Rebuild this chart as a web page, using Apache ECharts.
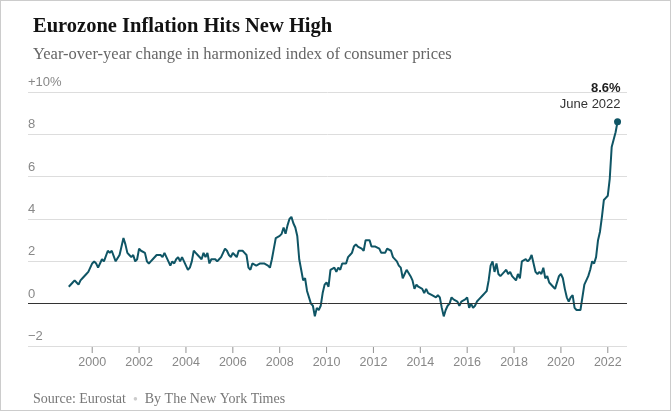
<!DOCTYPE html>
<html>
<head>
    <meta charset="utf-8">
    <script src="https://cdn.jsdelivr.net/npm/echarts@6/dist/echarts.min.js"></script>
    <style>
        body { margin:0; }
        #main { width:669px; height:409px; border:1px solid #ccc; }
    </style>
</head>
<body>
    <div id="main"></div>
    <script type="text/javascript">
        // monthly year-over-year HICP change, Jan 1999 .. Jun 2022
        var startYear = 1999;
        var values = [
            0.8,0.8,1.0,1.1,1.0,0.9,1.1,1.2,1.2,1.4,1.5,1.7,
            1.9,2.0,1.9,1.7,1.7,2.1,2.0,2.0,2.5,2.4,2.5,2.5,
            2.0,2.0,2.3,2.7,3.1,2.8,2.4,2.3,2.2,2.3,2.0,2.1,
            2.6,2.5,2.5,2.4,2.0,1.9,2.0,2.1,2.1,2.3,2.3,2.3,
            2.2,2.4,2.4,2.0,1.8,2.0,1.9,2.1,2.2,2.0,2.2,2.0,
            1.8,1.6,1.7,2.0,2.5,2.4,2.3,2.3,2.1,2.4,2.2,2.4,
            1.9,2.1,2.1,2.1,2.0,2.1,2.2,2.2,2.6,2.5,2.3,2.2,
            2.4,2.3,2.2,2.5,2.5,2.5,2.4,2.3,1.7,1.6,1.9,1.9,
            1.8,1.8,1.9,1.9,1.9,1.9,1.8,1.7,2.1,2.6,3.1,3.1,
            3.2,3.3,3.6,3.3,3.7,4.0,4.1,3.8,3.6,3.2,2.1,1.6,
            1.1,1.2,0.6,0.6,0.0,-0.1,-0.6,-0.2,-0.3,-0.1,0.5,0.9,
            1.0,0.8,1.6,1.6,1.7,1.5,1.7,1.6,1.9,1.9,1.9,2.2,
            2.3,2.4,2.7,2.8,2.7,2.7,2.6,2.5,3.0,3.0,3.0,2.7,
            2.7,2.7,2.7,2.6,2.4,2.4,2.4,2.6,2.6,2.5,2.2,2.2,
            2.0,1.8,1.7,1.2,1.4,1.6,1.6,1.3,1.1,0.7,0.9,0.8,
            0.8,0.7,0.5,0.7,0.5,0.5,0.4,0.4,0.3,0.4,0.3,-0.2,
            -0.6,-0.3,-0.1,0.0,0.3,0.2,0.2,0.1,-0.1,0.1,0.1,0.2,
            0.3,-0.2,0.0,-0.2,-0.1,0.1,0.2,0.2,0.4,0.5,0.6,1.1,
            1.8,2.0,1.5,1.9,1.4,1.3,1.3,1.5,1.6,1.4,1.5,1.3,
            1.3,1.1,1.4,1.2,2.0,2.0,2.1,2.0,2.1,2.3,1.9,1.5,
            1.4,1.5,1.4,1.7,1.2,1.3,1.0,1.0,0.8,0.7,1.0,1.3,
            1.4,1.2,0.7,0.3,0.1,0.3,0.4,-0.2,-0.3,-0.3,-0.3,-0.3,
            0.9,0.9,1.3,1.6,2.0,1.9,2.2,3.0,3.4,4.1,4.9,5.0,
            5.1,5.9,7.4,7.4,8.1,8.6
        ];
        var yearTicks = [2000,2002,2004,2006,2008,2010,2012,2014,2016,2018,2020,2022];

        var points = values.map(function (v, i) { return [startYear + i / 12, v]; });
        var last = points[points.length - 1];

        var serif = '"Liberation Serif", "DejaVu Serif", serif';
        var sans = '"Liberation Sans", Roboto, sans-serif';

        var myChart = echarts.init(document.getElementById('main'));
        var option = {
            animation: false,
            title: [{
                text: 'Eurozone Inflation Hits New High',
                left: 27, top: 10,
                textStyle: { fontFamily: serif, fontSize: 20.5, fontWeight: 'bold', color: '#121212' }
            }, {
                text: 'Year-over-year change in harmonized index of consumer prices',
                left: 27, top: 40,
                textStyle: { fontFamily: serif, fontSize: 16.5, fontWeight: 'normal', color: '#666' }
            }, {
                text: 'Source: Eurostat  {d|●}  By The New York Times',
                left: 27, top: 386,
                textStyle: { fontFamily: serif, fontSize: 14, fontWeight: 'normal', color: '#777',
                    rich: { d: { color: '#ccc', fontSize: 8 } } }
            }],
            grid: { left: 27, right: 43, top: 91, bottom: 64 },
            xAxis: [{
                type: 'value', min: 1997.26, max: 2022.82,
                splitLine: { show: false },
                axisLine: { show: false, onZero: false },
                axisTick: { show: false },
                axisLabel: { customValues: yearTicks, margin: 10, color: '#888', fontFamily: sans, fontSize: 12.5,
                    formatter: function (v) { return String(Math.round(v)); } }
            }, {
                // tick marks only, at each labelled year
                type: 'category', position: 'bottom',
                data: [1997.26].concat(yearTicks),
                boundaryGap: false,
                axisLine: { show: false, onZero: false },
                axisLabel: { show: false },
                splitLine: { show: false },
                axisTick: { show: false }
            }],
            yAxis: {
                type: 'value', min: -2, max: 10, interval: 2,
                axisLine: { show: false },
                axisTick: { show: false },
                splitLine: { lineStyle: { color: '#ddd' } },
                axisLabel: {
                    inside: true, margin: 0, verticalAlign: 'bottom', padding: [0, 0, 3, 0],
                    color: '#888', fontFamily: sans, fontSize: 13,
                    formatter: function (v) {
                        if (v === 10) return '+10%';
                        return v < 0 ? '\u2212' + Math.abs(v) : String(v);
                    }
                }
            },
            series: [{
                type: 'line',
                data: points,
                showSymbol: false,
                lineStyle: { color: '#0f5565', width: 2 },
                markLine: {
                    silent: true, symbol: 'none', label: { show: false },
                    lineStyle: { color: '#333', width: 1, type: 'solid' },
                    data: [{ yAxis: 0 }]
                },
                markPoint: {
                    symbol: 'circle', symbolSize: 7,
                    itemStyle: { color: '#0f5565' },
                    data: [{ coord: last }],
                    label: {
                        show: true, position: 'top', align: 'right', offset: [3, -1],
                        formatter: '{b|8.6%}\n{n|June 2022}',
                        rich: {
                            b: { fontFamily: sans, fontWeight: 'bold', fontSize: 13, color: '#222', align: 'right', lineHeight: 16 },
                            n: { fontFamily: sans, fontSize: 13, color: '#333', align: 'right', lineHeight: 16 }
                        }
                    }
                }
            }, {
                // invisible series that places short tick segments below the -2 line
                type: 'scatter',
                xAxisIndex: 0,
                data: yearTicks.map(function (y) { return [y, -2]; }),
                symbol: 'rect', symbolSize: [1, 6], symbolOffset: [0, 4],
                itemStyle: { color: '#777' },
                silent: true, clip: false
            }]
        };
        myChart.setOption(option);
    </script>
</body>
</html>
